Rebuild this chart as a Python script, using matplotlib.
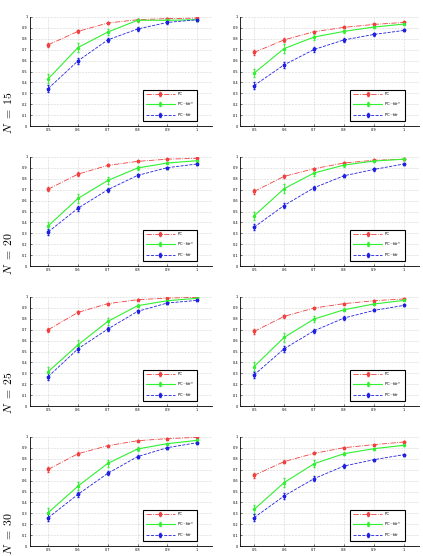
import matplotlib
matplotlib.use('Agg')
import matplotlib.pyplot as plt

plt.rcParams['mathtext.fontset'] = 'cm'

x = [0.5, 0.6, 0.7, 0.8, 0.9, 1.0]
n_values = [15, 20, 25, 30]

# left column
pc_left = [
    [0.745, 0.868, 0.945, 0.975, 0.985, 0.99],
    [0.705, 0.843, 0.923, 0.96, 0.98, 0.988],
    [0.70, 0.859, 0.939, 0.975, 0.99, 0.997],
    [0.703, 0.847, 0.92, 0.966, 0.985, 0.997],
]
fdrs_left = [
    [0.433, 0.72, 0.862, 0.97, 0.97, 0.975],
    [0.368, 0.62, 0.785, 0.899, 0.945, 0.966],
    [0.316, 0.561, 0.776, 0.92, 0.966, 0.988],
    [0.306, 0.55, 0.758, 0.89, 0.939, 0.969],
]
fdr_left = [
    [0.344, 0.598, 0.79, 0.89, 0.95, 0.975],
    [0.313, 0.53, 0.70, 0.831, 0.902, 0.936],
    [0.27, 0.525, 0.706, 0.868, 0.945, 0.969],
    [0.26, 0.474, 0.667, 0.82, 0.902, 0.948],
]

# right column
pc_right = [
    [0.675, 0.79, 0.865, 0.905, 0.932, 0.95],
    [0.684, 0.822, 0.893, 0.945, 0.97, 0.979],
    [0.684, 0.822, 0.899, 0.939, 0.966, 0.982],
    [0.648, 0.774, 0.85, 0.902, 0.93, 0.954],
]
fdrs_right = [
    [0.485, 0.71, 0.816, 0.868, 0.908, 0.935],
    [0.46, 0.709, 0.853, 0.926, 0.963, 0.98],
    [0.362, 0.629, 0.798, 0.883, 0.936, 0.969],
    [0.336, 0.581, 0.755, 0.847, 0.893, 0.924],
]
fdr_right = [
    [0.371, 0.561, 0.702, 0.79, 0.84, 0.877],
    [0.356, 0.555, 0.718, 0.828, 0.886, 0.936],
    [0.285, 0.525, 0.69, 0.807, 0.877, 0.923],
    [0.26, 0.459, 0.618, 0.734, 0.792, 0.838],
]

# error bar half widths
err_pc = [0.02, 0.015, 0.01, 0.006, 0.005, 0.005]
err_fdrs = [0.04, 0.04, 0.03, 0.015, 0.01, 0.01]
err_fdr = [0.03, 0.025, 0.02, 0.015, 0.01, 0.01]

W, H = 423, 556
fig = plt.figure(figsize=(W / 100, H / 100), dpi=100)

col_x = [(29.5, 212, 0.437), (240, 419, 0.453)]
row_top = [17, 157, 297, 437]
ax_h = 109

for r in range(4):
    for c in range(2):
        x0, x1, xmin = col_x[c]
        top = row_top[r]
        ax = fig.add_axes([x0 / W, 1 - (top + ax_h) / H, (x1 - x0) / W, ax_h / H])
        if c == 0:
            pc, fs, fd = pc_left[r], fdrs_left[r], fdr_left[r]
        else:
            pc, fs, fd = pc_right[r], fdrs_right[r], fdr_right[r]
        ax.errorbar(x, pc, yerr=err_pc, color='#f04040', ls='-.', lw=0.6,
                    marker='*', ms=2.5, elinewidth=0.6, capsize=1, label='PC')
        ax.errorbar(x, fs, yerr=err_fdrs, color='#30f030', ls='-', lw=0.8,
                    marker='o', ms=1.5, elinewidth=0.6, capsize=1, label='PC$-$fdr*')
        ax.errorbar(x, fd, yerr=err_fdr, color='#2020e0', ls='--', lw=0.6,
                    marker='*', ms=2.5, elinewidth=0.6, capsize=1, label='PC$-$fdr')
        ax.set_xlim(xmin, 1.05)
        ax.set_ylim(0, 1)
        ax.set_xticks(x)
        ax.set_xticklabels(['0.5', '0.6', '0.7', '0.8', '0.9', '1'])
        ax.set_yticks([i / 10 for i in range(11)])
        ax.set_yticklabels(['0', '0.1', '0.2', '0.3', '0.4', '0.5', '0.6',
                            '0.7', '0.8', '0.9', '1'])
        ax.tick_params(labelsize=2.5, length=1.5, width=0.4, direction='in', pad=1.5)
        ax.grid(True, ls=':', lw=0.4, color='#b0b0b0')
        ax.spines['top'].set_visible(False)
        ax.spines['right'].set_visible(False)
        ax.spines['left'].set_linewidth(0.6)
        ax.spines['bottom'].set_linewidth(0.6)
        leg = ax.legend(loc='lower right', bbox_to_anchor=(0.93, 0.03), fontsize=2.8,
                        fancybox=False, borderpad=0.7, labelspacing=1.0,
                        handlelength=7.5, handletextpad=0.6, framealpha=1)
        leg.get_frame().set_edgecolor('black')
        leg.get_frame().set_linewidth(0.8)
    fig.text(9 / W, 1 - (row_top[r] + ax_h - 13) / H, r'$N\ =\ %d$' % n_values[r],
             rotation=90, ha='center', va='center', fontsize=8.5)

fig.savefig('out.png', dpi=100)
